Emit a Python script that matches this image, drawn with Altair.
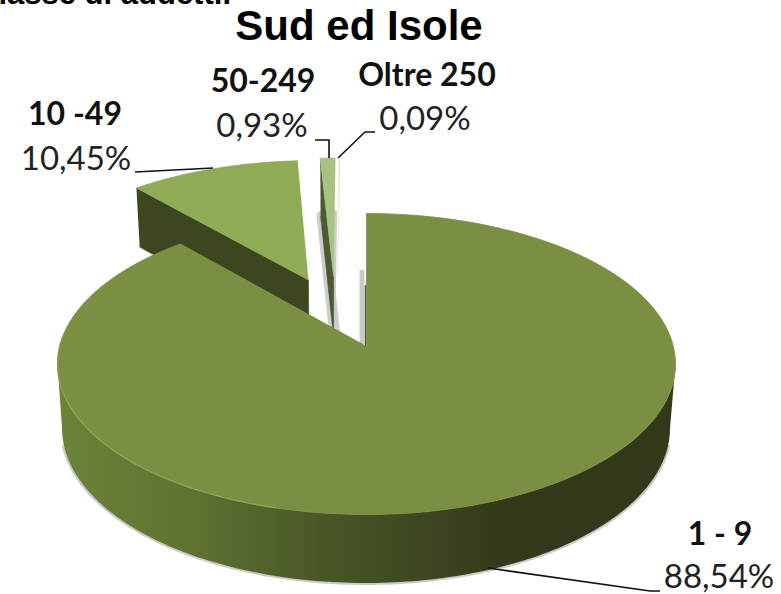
import numpy as np
import pandas as pd
import altair as alt

# Shares of firms by size class, clockwise from twelve o'clock
classes = ["1 - 9", "10 -49", "50-249", "Oltre 250"]
shares = [88.54, 10.45, 0.93, 0.09]

# Pie pulled out of centre, in disc units, per class
explode = [(0.0, 0.0), (-0.20, 0.47), (-0.1135, 0.494), (-0.10, 0.494)]
face_colors = ["#7b8f42", "#8fab55", "#a9c283", "#e2ebd3"]

# Perspective view of the top and bottom planes of the disc
PERSP = 0.12
TOP = dict(cx=366.5, cy=364.0, rx=309.0, ry=150.5)
BOT = dict(cx=366.0, cy=428.0, rx=304.0, ry=155.0)


def project(X, Y, plane):
    X, Y = np.asarray(X, float), np.asarray(Y, float)
    d = 1 + PERSP * Y
    yp = (Y + PERSP) / d
    xp = X * np.sqrt(1 - PERSP ** 2) / d
    return plane["cx"] + plane["rx"] * xp, plane["cy"] - plane["ry"] * yp


def rim(a0, a1, offset=(0.0, 0.0), n=160):
    t = np.radians(np.linspace(a0, a1, n))
    return np.sin(t) + offset[0], np.cos(t) + offset[1]


def polygon(xs, ys, fill, opacity=1.0, seam=0.6, stroke=None):
    df = pd.DataFrame({"x": xs, "y": ys, "i": np.arange(len(xs))})
    edge = stroke or (fill if isinstance(fill, str) else "#4c5a28")
    return (
        alt.Chart(df)
        .mark_line(fill=fill, stroke=edge, strokeWidth=seam, opacity=opacity, interpolate="linear", strokeJoin="round")
        .encode(x=X_ENC, y=Y_ENC, order="i:Q")
    )


def polyline(xs, ys, color="#111111", width=1.6, opacity=1.0):
    df = pd.DataFrame({"x": xs, "y": ys, "i": np.arange(len(xs))})
    return (
        alt.Chart(df)
        .mark_line(color=color, strokeWidth=width, opacity=opacity)
        .encode(x=X_ENC, y=Y_ENC, order="i:Q")
    )


def label(items, font, size, weight, color="#111111", align="left"):
    df = pd.DataFrame(items, columns=["x", "y", "t"])
    return (
        alt.Chart(df)
        .mark_text(font=font, fontSize=size, fontWeight=weight, color=color, align=align, baseline="alphabetic")
        .encode(x=X_ENC, y=Y_ENC, text="t:N")
    )


X_ENC = alt.X("x:Q", scale=alt.Scale(domain=[0, 781], range=[0, 781], nice=False, zero=False), axis=None)
Y_ENC = alt.Y("y:Q", scale=alt.Scale(domain=[0, 594], range=[0, 594], nice=False, zero=False), axis=None)

edges = 360 * np.cumsum([0] + shares) / sum(shares)
layers = []

# Soft shadow beneath the main wall
side = np.degrees(np.arccos(-PERSP))
X, Y = rim(side + 6, 360 - side - 6)
sh_plane = dict(BOT, rx=BOT["rx"] + 2, ry=BOT["ry"] + 1.5, cy=BOT["cy"] + 0.5)
sx, sy = project(X, Y, sh_plane)
layers.append(polygon(sx, sy, "#8a8a8a", opacity=0.45, seam=0))

# Pulled-out slices, back to front: cast shadow, radial wall, then top face
shadow_spread = {1: 4, 2: 11}
for k in (1, 2, 3):
    off = explode[k]
    a0, a1 = edges[k], edges[k + 1]
    if k < 3:
        X, Y = rim(a0, a1, off, n=40)
        gx, gy = project(np.concatenate([[off[0]], X]), np.concatenate([[off[1]], Y]), BOT)
        layers.append(polygon(gx + 1.5, gy, "#8a8a8a", opacity=0.42, seam=shadow_spread[k]))

        ex, ey = rim(a0, a0, off, n=1)
        ax, ay = np.array([off[0]]), np.array([off[1]])
        tx0, ty0 = project(ex, ey, TOP)
        tx1, ty1 = project(ax, ay, TOP)
        bx0, by0 = project(ex, ey, BOT)
        bx1, by1 = project(ax, ay, BOT)
        wall_x = np.concatenate([tx0, tx1, bx1, bx0])
        wall_y = np.concatenate([ty0, ty1, by1, by0])
        layers.append(polygon(wall_x, wall_y, "#3c461f" if k == 1 else "#4b5a30"))
    X, Y = rim(a0, a1, off, n=40)
    X = np.concatenate([[off[0]], X])
    Y = np.concatenate([[off[1]], Y])
    fx, fy = project(X, Y, TOP)
    layers.append(polygon(fx, fy, face_colors[k], seam=0.8))

# Shadow and thin wall along the straight edge of the main slice
X0, Y0 = rim(0, 0, n=1)
apex_x, apex_y = project([0.0], [0.0], TOP)
edge_x, edge_y = project(X0, Y0, TOP)
layers.append(polyline([apex_x[0] - 4.5, apex_x[0] - 4.5], [270, apex_y[0]], color="#8a8a8a", width=5, opacity=0.45))
layers.append(polyline([edge_x[0] - 1, apex_x[0] - 1], [285, apex_y[0]], color="#4b5a30", width=1.4))

# Main slice: curved wall with its left-to-right shading, then the face
X, Y = rim(360 - side, side)
tx, ty = project(X, Y, TOP)
bx, by = project(X[::-1], Y[::-1], BOT)
wall_fill = alt.Gradient(
    gradient="linear", x1=0, x2=1, y1=0, y2=0,
    stops=[
        alt.GradientStop(color="#6c8339", offset=0.0),
        alt.GradientStop(color="#5e7231", offset=0.22),
        alt.GradientStop(color="#4a5827", offset=0.42),
        alt.GradientStop(color="#3d4820", offset=0.58),
        alt.GradientStop(color="#33391a", offset=0.72),
        alt.GradientStop(color="#32381a", offset=1.0),
    ],
)
layers.append(polygon(np.concatenate([tx, bx]), np.concatenate([ty, by]), wall_fill, seam=0))

X, Y = rim(edges[0], edges[1])
X = np.concatenate([[0.0], X])
Y = np.concatenate([[0.0], Y])
fx, fy = project(X, Y, TOP)
layers.append(polygon(fx, fy, face_colors[0], seam=0.8))

# Lit front edge of the face
X, Y = rim(195, 275, n=80)
ex, ey = project(X, Y, TOP)
layers.append(polyline(ex, ey, color="#8ba84f", width=1.2))

# Leader lines
layers.append(polyline([135, 213], [172, 168]))
layers.append(polyline([315, 329, 329], [140, 140, 158]))
layers.append(polyline([338, 365, 375], [158, 132, 132]))
layers.append(polyline([488, 650, 660], [568, 591, 591]))

# Titles and labels
pct = [f"{v:.2f}".replace(".", ",") + "%" for v in shares]
layers.append(label([(231, 4, "classe di addetti.")], "Liberation Sans", 31, "bold", "#000000", "right"))
layers.append(label([(359, 40, "Sud ed Isole")], "Liberation Sans", 42, "bold", "#000000", "center"))
layers.append(label(
    [(720, 545, classes[0]), (75, 125, classes[1]), (263, 92, classes[2]), (427, 86, classes[3])],
    "Lato", 32, "bold", align="center",
))
layers.append(label(
    [(719, 588, pct[0]), (76, 170, pct[1]), (262, 137, pct[2]), (425, 130, pct[3])],
    "Lato", 33, "normal", color="#222222", align="center",
))

chart = (
    alt.layer(*layers)
    .properties(width=781, height=594, padding=0, autosize=alt.AutoSizeParams(type="none"), background="white")
    .configure_view(stroke=None)
)
chart.save("out.html", embed_options={"renderer": "svg", "actions": False})
